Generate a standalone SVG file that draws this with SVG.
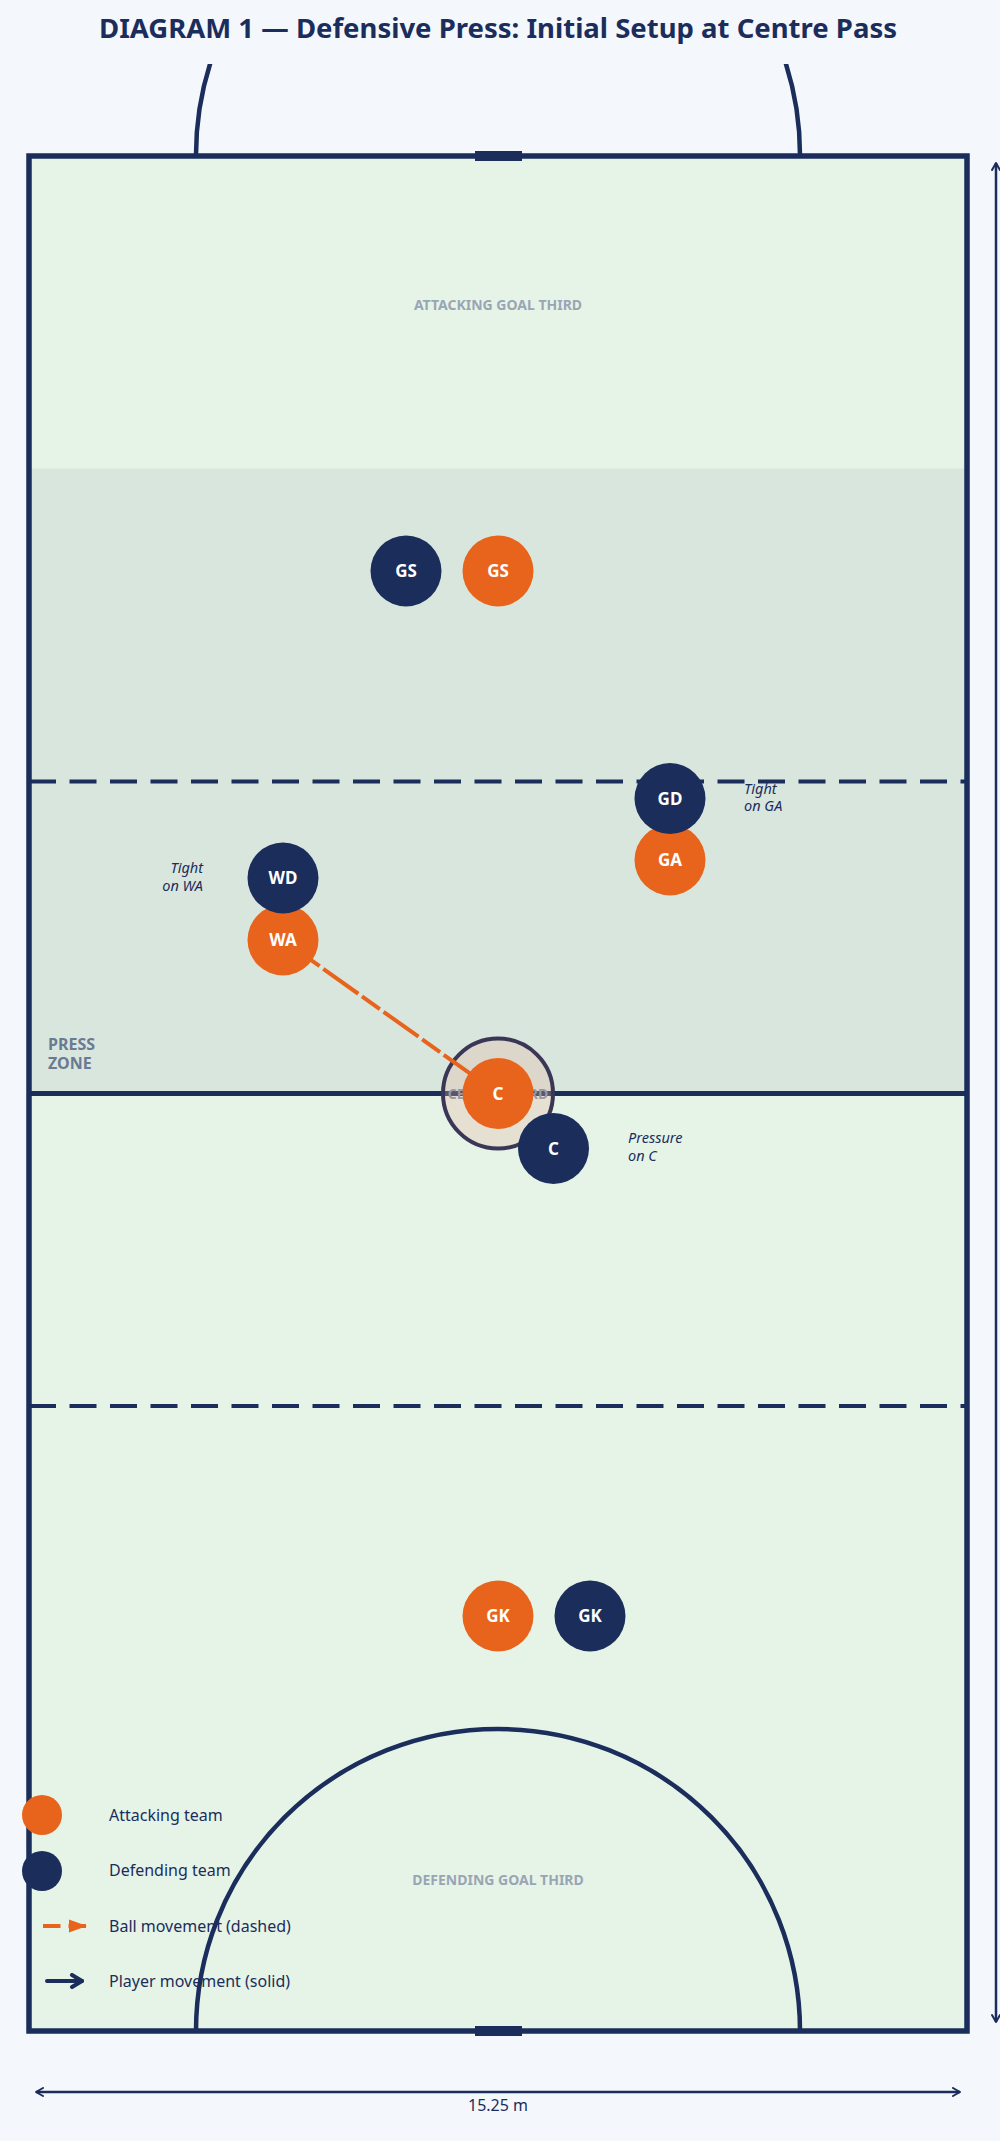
<svg xmlns="http://www.w3.org/2000/svg" width="1000" height="2141" viewBox="0 0 1000 2141">
<style>
.navy{fill:#1b2d5b}
.orange{fill:#e8641c}
.lbl{font-family:"Noto Sans","Open Sans",sans-serif;font-weight:700;font-size:17px;fill:#ffffff;text-anchor:middle}
.note{font-family:"Noto Sans","Open Sans",sans-serif;font-style:italic;font-size:14.5px;fill:#1b2d5b}
.zone{font-family:"Noto Sans","Open Sans",sans-serif;font-weight:700;font-size:14px;fill:#9aa5b4;text-anchor:middle}
.leg{font-family:"Noto Sans","Open Sans",sans-serif;font-size:16px;fill:#1b2d5b}
.line{stroke:#1b2d5b;fill:none}
</style>
<defs>
<clipPath id="topclip"><rect x="0" y="64" width="1000" height="200"/></clipPath>
<marker id="chev" viewBox="0 0 10 10" refX="9" refY="5" markerWidth="10" markerHeight="10" markerUnits="userSpaceOnUse" orient="auto-start-reverse">
<path d="M2 1 L9 5 L2 9" fill="none" stroke="#1b2d5b" stroke-width="2" stroke-linecap="round" stroke-linejoin="round"/>
</marker>
<marker id="balltip" viewBox="0 0 20 14" refX="19" refY="7" markerWidth="20" markerHeight="14" markerUnits="userSpaceOnUse" orient="auto">
<path d="M1 0.5 L19 7 L1 13.5 Z" fill="#e8641c"/>
</marker>
<marker id="playtip" viewBox="0 0 16 16" refX="14" refY="8" markerWidth="16" markerHeight="16" markerUnits="userSpaceOnUse" orient="auto">
<path d="M4 2 L14 8 L4 14" fill="none" stroke="#1b2d5b" stroke-width="4" stroke-linecap="round" stroke-linejoin="round"/>
</marker>
</defs>
<rect x="0" y="0" width="1000" height="2141" fill="#f4f7fb"/>
<text x="498" y="38" font-family="'Noto Sans','Open Sans',sans-serif" font-weight="700" font-size="27.5" fill="#1b2d5b" text-anchor="middle">DIAGRAM 1 — Defensive Press: Initial Setup at Centre Pass</text>

<g id="court">
<path d="M196 155 A302 302 0 0 1 800 155" class="line" stroke-width="4.5" clip-path="url(#topclip)"/>
<rect x="29" y="156" width="938" height="1875" fill="#e6f4e8"/>
<rect x="29" y="468.5" width="938" height="625" fill="#d9e6dd"/>
<text x="498" y="310" class="zone">ATTACKING GOAL THIRD</text>
<text x="498" y="1885" class="zone">DEFENDING GOAL THIRD</text>
<line x1="29" y1="781.5" x2="967" y2="781.5" class="line" stroke-width="4" stroke-dasharray="27 13.5"/>
<line x1="29" y1="1406" x2="967" y2="1406" class="line" stroke-width="4" stroke-dasharray="27 13.5"/>
<line x1="29" y1="1093.5" x2="967" y2="1093.5" class="line" stroke-width="5"/>
<path d="M196 2031 A302 302 0 0 1 800 2031" class="line" stroke-width="4.5"/>
<circle cx="498" cy="1093.5" r="55" fill="#e8b49e" fill-opacity="0.3" stroke="#3a3656" stroke-width="4"/>
<text x="498" y="1098.5" class="zone" style="fill:#9a98a0">CENTRE THIRD</text>
<rect x="29" y="156" width="938" height="1875" fill="none" stroke="#1b2d5b" stroke-width="5.5"/>
<rect x="475" y="151" width="47" height="10" class="navy"/>
<rect x="475" y="2026" width="47" height="10" class="navy"/>
<text font-family="'Noto Sans','Open Sans',sans-serif" font-weight="700" font-size="16" fill="#6b7a93"><tspan x="48" y="1050">PRESS</tspan><tspan x="48" y="1068.5">ZONE</tspan></text>
</g>

<g id="connectors">
<path id="ball-wa-c" d="M283 940 L498 1093.5" fill="none" stroke="#e8641c" stroke-width="4" stroke-dasharray="43 4.5 22 4.5" stroke-dashoffset="24.5"/>
</g>

<g id="players">
<g id="def-gs"><circle cx="406" cy="571" r="35.5" class="navy"/><text x="406" y="577" class="lbl">GS</text></g>
<g id="att-gs"><circle cx="498" cy="571" r="35.5" class="orange"/><text x="498" y="577" class="lbl">GS</text></g>
<g id="att-ga"><circle cx="670" cy="860" r="35.5" class="orange"/><text x="670" y="866" class="lbl">GA</text></g>
<g id="def-gd"><circle cx="670" cy="798.5" r="35.5" class="navy"/><text x="670" y="804.5" class="lbl">GD</text></g>
<g id="att-wa"><circle cx="283" cy="940" r="35.5" class="orange"/><text x="283" y="946" class="lbl">WA</text></g>
<g id="def-wd"><circle cx="283" cy="878" r="35.5" class="navy"/><text x="283" y="884" class="lbl">WD</text></g>
<g id="att-c"><circle cx="498" cy="1093.5" r="35.5" class="orange"/><text x="498" y="1099.5" class="lbl">C</text></g>
<g id="def-c"><circle cx="553.5" cy="1148.5" r="35.5" class="navy"/><text x="553.5" y="1154.5" class="lbl">C</text></g>
<g id="att-gk"><circle cx="498" cy="1616" r="35.5" class="orange"/><text x="498" y="1622" class="lbl">GK</text></g>
<g id="def-gk"><circle cx="590" cy="1616" r="35.5" class="navy"/><text x="590" y="1622" class="lbl">GK</text></g>
</g>

<g id="annotations">
<text class="note" text-anchor="end"><tspan x="203" y="873">Tight</tspan><tspan x="203" y="890.5">on WA</tspan></text>
<text class="note"><tspan x="744" y="794">Tight</tspan><tspan x="744" y="811">on GA</tspan></text>
<text class="note"><tspan x="628" y="1143">Pressure</tspan><tspan x="628" y="1160.5">on C</tspan></text>
</g>

<g id="legend">
<circle cx="42" cy="1815" r="20" class="orange"/>
<circle cx="42" cy="1871" r="20" class="navy"/>
<line x1="43" y1="1926" x2="87" y2="1926" stroke="#e8641c" stroke-width="4" stroke-dasharray="17.5 8" marker-end="url(#balltip)"/>
<line x1="47" y1="1981" x2="82" y2="1981" stroke="#1b2d5b" stroke-width="4" stroke-linecap="round" marker-end="url(#playtip)"/>
<text x="109" y="1820.5" class="leg">Attacking team</text>
<text x="109" y="1876" class="leg">Defending team</text>
<text x="109" y="1931.5" class="leg">Ball movement (dashed)</text>
<text x="109" y="1986.5" class="leg">Player movement (solid)</text>
</g>

<g id="dimensions">
<line x1="996" y1="163" x2="996" y2="2022" class="line" stroke-width="2.5" marker-start="url(#chev)" marker-end="url(#chev)"/>
<line x1="36" y1="2092" x2="960" y2="2092" class="line" stroke-width="2.5" marker-start="url(#chev)" marker-end="url(#chev)"/>
<text x="498" y="2111" font-family="'Noto Sans','Open Sans',sans-serif" font-size="16" fill="#1b2d5b" text-anchor="middle">15.25 m</text>
</g>
</svg>
